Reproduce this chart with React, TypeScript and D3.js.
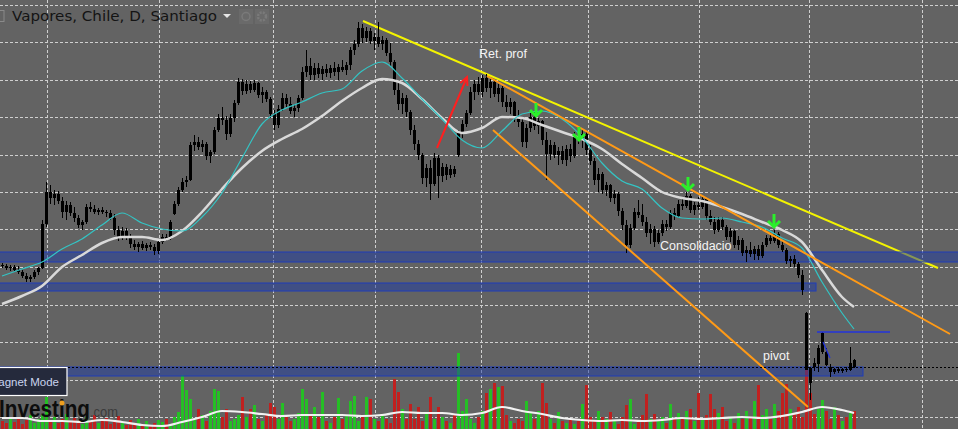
import * as d3 from "d3";

// daily bars: [open, high, low, close]
const candles: [number, number, number, number][] = [
  [23.5,23.7,23.2,23.4],[23.4,23.6,23.0,23.2],[23.2,23.5,22.9,23.3],[23.3,23.5,22.9,23.0],[23.0,23.4,22.6,22.8],[22.8,23.0,22.2,22.4],[22.4,22.7,21.8,22.1],[22.1,22.5,21.8,22.3],[22.3,23.0,22.1,22.8],[22.8,23.3,22.5,23.2],
  [23.2,28.0,23.1,27.6],[27.6,31.8,27.3,30.8],[30.8,31.5,29.6,30.2],[30.2,31.0,29.5,30.6],[30.6,30.9,29.6,29.9],[29.9,30.3,28.2,28.8],[28.8,29.9,28.0,29.5],[29.5,29.8,28.4,28.7],[28.7,29.3,27.8,28.2],[28.2,28.5,27.2,27.5],
  [27.5,28.0,27.0,27.8],[27.8,29.6,27.6,29.3],[29.3,29.8,28.8,29.1],[29.1,29.5,28.6,28.8],[28.8,29.2,28.5,29.0],[29.0,29.3,28.6,28.8],[28.8,29.0,28.3,28.7],[28.7,29.0,28.0,28.2],[28.2,28.6,26.5,27.0],[27.0,27.4,25.9,26.2],
  [26.2,27.3,26.0,26.9],[26.9,27.2,26.0,26.4],[26.4,26.6,25.2,25.6],[25.6,26.0,25.0,25.3],[25.3,25.8,24.8,25.6],[25.6,25.9,25.0,25.2],[25.2,25.7,24.9,25.5],[25.5,25.8,25.0,25.3],[25.3,25.6,24.5,24.9],[24.9,26.0,24.6,25.8],
  [25.8,26.6,25.6,26.3],[26.3,26.6,25.9,26.1],[26.1,28.0,26.0,27.8],[28.6,29.9,28.5,29.6],[29.6,31.3,29.4,31.0],[31.0,32.2,30.8,31.8],[31.8,32.4,31.3,32.0],[32.0,35.8,31.9,35.5],[35.5,36.5,34.9,35.8],[35.8,36.3,35.0,35.3],
  [35.3,36.0,34.8,35.6],[35.6,35.8,34.0,34.4],[34.4,35.0,33.7,34.8],[34.8,37.3,34.6,37.0],[37.0,38.6,36.8,38.2],[38.2,39.3,37.5,38.0],[38.0,38.4,36.0,36.6],[36.6,38.6,36.3,38.2],[38.2,40.0,37.8,39.7],[39.7,42.2,39.5,41.8],
  [41.8,42.1,40.5,40.9],[40.9,42.0,40.6,41.6],[41.6,41.9,40.7,41.0],[41.0,42.0,40.8,41.7],[41.7,41.8,40.2,40.5],[40.5,41.3,39.7,40.8],[40.8,41.0,39.8,40.1],[40.1,40.3,38.2,38.6],[38.6,39.0,37.0,37.5],[37.5,39.5,37.2,39.1],
  [39.1,40.7,38.9,40.2],[40.2,40.6,39.3,39.6],[39.6,40.3,38.6,38.9],[38.9,39.6,38.3,39.2],[39.2,40.5,38.8,40.2],[40.2,43.3,40.0,42.8],[42.8,45.0,42.3,43.4],[43.4,44.2,42.0,42.5],[42.5,43.7,42.0,43.2],[43.2,43.7,42.2,42.6],
  [42.6,43.4,42.0,43.1],[43.1,43.6,42.3,42.7],[42.7,43.5,42.2,43.2],[43.2,43.8,42.4,42.8],[42.8,43.6,42.0,43.3],[43.3,44.0,42.8,43.0],[43.0,43.8,42.5,43.5],[43.5,45.3,43.0,45.0],[45.0,46.0,44.5,45.6],[45.6,47.8,45.3,47.2],
  [47.2,47.6,45.7,46.2],[46.2,47.3,45.8,46.9],[46.9,47.2,45.6,45.9],[45.9,46.7,45.0,46.3],[46.3,47.8,45.3,45.6],[45.6,46.4,45.0,46.0],[46.0,46.2,44.4,44.7],[44.7,45.7,43.3,43.8],[43.8,44.0,40.5,41.0],[41.0,41.8,39.0,39.6],
  [39.6,40.7,38.6,40.2],[40.2,40.5,38.3,38.8],[38.8,39.0,36.5,37.0],[37.0,37.5,35.0,35.6],[35.6,36.0,34.0,34.5],[34.5,34.7,31.6,32.2],[32.2,33.6,31.3,33.2],[33.2,34.0,30.0,31.6],[31.6,34.7,31.4,34.2],[34.2,34.5,30.2,32.4],
  [32.4,33.7,31.8,33.3],[33.3,33.6,32.0,32.5],[32.5,33.5,32.2,33.1],[33.1,33.4,32.3,32.6],[34.5,37.0,34.3,36.7],[36.7,38.0,36.2,37.6],[37.6,39.0,37.3,38.7],[38.7,41.3,38.5,40.8],[40.8,42.0,40.0,41.6],[41.6,42.3,40.5,40.8],
  [40.8,42.5,40.3,42.2],[42.2,42.6,40.8,41.2],[41.2,42.2,40.2,41.8],[41.8,42.0,40.3,40.6],[40.6,41.6,39.8,41.2],[41.2,41.4,39.3,39.8],[39.8,40.5,38.8,39.3],[39.3,40.2,38.6,39.8],[39.8,39.9,37.8,38.2],[38.2,39.0,37.3,37.8],
  [37.8,38.2,35.3,35.8],[35.8,37.6,35.2,37.2],[37.2,38.7,36.8,38.3],[38.3,38.8,37.0,37.4],[37.4,38.2,36.6,37.9],[37.9,38.0,35.5,36.0],[36.0,36.8,32.0,34.6],[34.6,36.0,34.0,35.5],[35.5,35.8,34.2,34.5],[34.5,35.3,33.5,34.9],
  [34.9,35.4,33.6,34.0],[34.0,35.5,33.4,35.1],[35.1,35.6,33.8,34.4],[34.4,36.8,34.2,36.4],[36.4,37.3,35.6,36.0],[36.0,37.0,35.2,36.6],[36.6,36.8,34.5,35.0],[35.0,35.5,33.5,33.9],[33.9,34.2,31.5,32.0],[32.0,33.2,30.8,32.6],
  [32.6,32.8,30.6,31.0],[31.0,31.8,30.4,31.5],[31.5,31.6,29.8,30.2],[30.2,31.0,29.6,30.6],[30.6,30.8,28.4,28.9],[28.9,29.2,27.0,27.5],[27.5,28.0,24.7,25.5],[25.5,27.6,25.2,27.2],[27.2,29.2,27.0,28.8],[28.8,30.0,28.2,28.5],
  [28.5,29.6,27.4,27.8],[27.8,28.3,26.3,26.7],[26.7,27.6,25.6,27.1],[27.1,27.4,25.3,25.8],[25.8,27.0,25.6,26.7],[26.7,28.0,26.4,27.6],[27.6,28.0,26.9,27.3],[27.3,29.0,27.1,28.7],[28.7,29.2,28.0,28.4],[28.4,30.0,28.2,29.6],
  [29.6,30.2,29.0,29.4],[29.4,30.8,29.2,30.4],[30.4,30.6,28.7,29.0],[29.0,29.8,28.5,29.5],[29.5,30.3,29.0,29.3],[29.3,30.5,29.1,30.1],[30.1,30.2,28.0,28.4],[28.4,29.0,27.5,27.8],[27.8,28.3,26.6,27.0],[27.0,28.3,26.8,28.0],
  [28.0,28.3,27.0,27.3],[27.3,27.5,26.0,26.3],[26.3,27.2,25.8,26.9],[26.9,27.0,25.2,25.5],[25.5,26.4,25.0,26.0],[26.0,26.2,24.4,24.7],[24.7,25.4,23.8,25.0],[25.0,25.8,24.3,24.6],[24.6,25.4,24.0,25.1],[25.1,25.5,24.0,24.4],
  [24.4,25.8,24.2,25.5],[25.5,26.5,25.3,26.2],[26.2,26.6,25.6,25.9],[25.9,27.0,25.7,26.6],[26.6,26.8,25.2,25.5],[25.5,26.0,24.8,25.0],[25.0,25.2,23.6,23.9],[23.9,24.4,23.3,24.1],[24.1,24.5,23.3,23.6],[23.6,23.8,22.2,22.5],
  [22.5,23.0,20.5,21.0],[18.7,18.8,13.0,13.0],[13.2,13.3,10.0,11.7],[13.7,14.2,12.9,13.3],[13.6,15.5,12.8,15.2],[14.8,16.8,14.6,16.7],[14.8,15.2,13.4,13.5],[13.3,13.6,12.3,12.8],[12.8,13.2,12.6,13.1],[13.1,13.3,12.7,12.9],
  [12.9,13.2,12.7,13.1],[13.1,13.3,12.8,13.0],[13.0,15.3,12.9,13.7],[14.0,14.1,13.2,13.3],
];

const volumes = [
  8,6,10,7,12,5,9,14,6,10,
  14,32,9,12,6,10,15,8,11,7,
  5,12,8,14,6,9,11,5,8,13,
  7,4,9,6,10,5,8,3,6,9,
  7,10,5,12,17,54,39,30,10,20,
  14,8,18,40,38,12,20,8,10,14,
  32,12,20,24,10,8,14,26,22,10,
  26,12,8,10,16,40,30,15,22,12,
  37,8,6,12,31,10,14,28,33,8,
  12,32,30,10,8,14,10,6,50,37,
  20,10,25,10,22,8,15,32,10,22,
  12,8,6,15,76,18,30,10,6,12,
  18,36,40,46,42,43,14,8,6,10,
  8,28,16,10,18,46,26,10,6,17,
  8,6,10,5,8,25,44,12,8,18,
  12,10,17,8,5,12,24,30,5,8,
  14,35,10,15,8,12,6,25,10,16,
  12,18,20,8,36,10,14,35,20,16,
  22,8,12,6,16,10,18,12,28,44,
  14,20,10,25,18,36,45,20,15,22,
  12,70,36,15,20,29,18,10,22,14,8,12,16,18,
];

// indicator readings, one every 5 bars (last one on the final bar)
const maFast = [22.4,23.1,23.8,25.1,26.1,27.5,28.7,27.7,27.1,26.9,28.3,30.7,34.2,37.6,39.0,39.8,40.7,41.1,42.9,43.8,42.2,40.1,38.1,36.0,35.2,36.9,38.6,38.9,38.1,36.3,33.7,31.9,31.1,29.2,28.2,28.1,28.2,27.8,27.3,26.2,25.2,21.8,18.7,17.1];
const maSlow = [19.6,20.4,21.4,23.3,24.5,25.7,26.3,26.3,26.0,26.9,28.8,31.1,33.2,34.9,36.1,37.1,38.4,39.9,41.2,42.1,41.7,40.1,38.2,36.7,37.2,38.3,38.2,37.5,36.8,36.1,35.1,33.6,32.2,30.8,30.2,29.9,29.3,28.6,27.8,27.0,25.8,23.0,20.3,19.3];
const volMa = [11,11,8,8,7,9,7,4,3,7,12,18,17,15,13,14,14,14,13,14,17,16,16,14,16,22,18,15,11,9,8,9,8,9,11,10,11,12,11,13,17,22,19,16];

const dateTicks = [11.25, 39.25, 67.75, 93.25, 119.75, 146.5, 174.25, 201.75, 230];
const priceTicks = [8.3, 12.05, 15.8, 19.55, 23.3, 27.05, 30.8, 34.55, 38.3, 42.05, 45.8, 49.55];

// drawings
const zones = [
  { lo: 23.8, hi: 24.8, end: 240 },
  { lo: 20.9, hi: 21.7, end: 203.5 },
  { lo: 12.4, hi: 13.3, end: 215.25 },
];
const yellowLine = [[90.25, 47.9], [234, 23.2]];
const orangeLines = [
  [[121.25, 42.4], [237, 16.6]],
  [[122.75, 37.0], [201.5, 9.3]],
];
const redArrow = [[108.75, 35.2], [116.25, 42.3]];
const sellSignals = [[133.5, 38.3], [144.25, 35.9], [171.5, 30.9], [193, 27.2]];
const pivotLine = [[203.75, 16.8], [222, 16.8]];
const pivotSlope = [[205.25, 15.8], [207, 14.2]];
const notes = [
  { text: "Ret. prof", i: 119.25, p: 44.2 },
  { text: "Consolidacio", i: 164.5, p: 25.0 },
  { text: "pivot", i: 190.25, p: 14.0 },
];

export default function App() {
  const W = 958;
  const H = 429;
  const x = d3.scaleLinear().domain([0, 239]).range([2, 958]);
  const y = d3.scaleLinear().domain([7.1, 50]).range([H, 0]);
  const yv = d3.scaleLinear().domain([0, 100]).range([H, H - 100]);

  const last = candles.length - 1;
  const maIdx = maFast.map((_, k) => Math.min(k * 5, last));
  const maLine = d3
    .line<number>()
    .x((_, k) => x(maIdx[k]))
    .y((d) => y(d))
    .curve(d3.curveMonotoneX);
  const vmaLine = d3
    .line<number>()
    .x((_, k) => x(maIdx[k]))
    .y((d) => yv(d))
    .curve(d3.curveMonotoneX);
  const seg = (pts: number[][]) => ({ x1: x(pts[0][0]), y1: y(pts[0][1]), x2: x(pts[1][0]), y2: y(pts[1][1]) });

  const lastClose = candles[last][3];
  const ra = seg(redArrow);
  const ang = Math.atan2(ra.y2 - ra.y1, ra.x2 - ra.x1);

  const sans = "'Liberation Sans', Arial, sans-serif";

  return (
    <div style={{ position: "fixed", left: 0, top: 0 }}>
      <svg width={W} height={H} style={{ display: "block" }}>
        <rect width={W} height={H} fill="#636363" />

        <g stroke="#cfcfcf" strokeWidth={1} strokeDasharray="3,2">
          {dateTicks.map((t) => (
            <line key={"v" + t} x1={Math.round(x(t)) + 0.5} x2={Math.round(x(t)) + 0.5} y1={0} y2={H} />
          ))}
          {priceTicks.map((p) => (
            <line key={"h" + p} x1={0} x2={W} y1={Math.round(y(p)) + 0.5} y2={Math.round(y(p)) + 0.5} />
          ))}
        </g>

        <g>
          {volumes.map((v, i) => {
            const c = candles[i];
            return (
              <rect
                key={i}
                x={x(i) - 1}
                width={3}
                y={yv(v)}
                height={H - yv(v)}
                fill={c[3] >= c[0] ? "#25bf25" : "#c0201f"}
              />
            );
          })}
        </g>
        <path d={vmaLine(volMa) ?? ""} fill="none" stroke="#f2f2f2" strokeWidth={2.2} />

        <line {...seg(yellowLine)} stroke="#f3f300" strokeWidth={2} />

        {zones.map((z, k) => (
          <rect
            key={k}
            x={-1}
            width={x(z.end) + 1}
            y={y(z.hi)}
            height={y(z.lo) - y(z.hi)}
            fill="rgba(30,60,165,0.5)"
            stroke="#1f3db8"
            strokeWidth={1}
          />
        ))}

        <g>
          {candles.map(([o, h, l, c], i) => {
            const top = y(Math.max(o, c));
            const bh = Math.max(1, y(Math.min(o, c)) - top);
            return (
              <g key={i}>
                <line x1={x(i) + 0.5} x2={x(i) + 0.5} y1={y(h)} y2={y(l)} stroke="#000" strokeWidth={1} />
                <rect x={x(i) - 1} width={3} y={top} height={bh} fill="#000" />
              </g>
            );
          })}
        </g>

        <path d={maLine(maSlow) ?? ""} fill="none" stroke="#d9d9d9" strokeWidth={2.5} />
        <path d={maLine(maFast) ?? ""} fill="none" stroke="#33c4c4" strokeWidth={1.2} />

        {orangeLines.map((l, k) => (
          <line key={k} {...seg(l)} stroke="#ff9a16" strokeWidth={2} />
        ))}

        <g stroke="#ff1f1f" strokeWidth={2} fill="none">
          <line {...ra} />
          <polyline
            points={[
              [ra.x2 - 9 * Math.cos(ang - 0.45), ra.y2 - 9 * Math.sin(ang - 0.45)],
              [ra.x2, ra.y2],
              [ra.x2 - 9 * Math.cos(ang + 0.45), ra.y2 - 9 * Math.sin(ang + 0.45)],
            ]
              .map((p) => p.join(","))
              .join(" ")}
          />
        </g>

        <g stroke="#2bef2b" strokeWidth={3} fill="none" strokeLinecap="butt">
          {sellSignals.map(([i, p], k) => {
            const tx = x(i);
            const ty = y(p);
            return (
              <g key={k}>
                <line x1={tx} x2={tx} y1={ty - 14} y2={ty - 1} />
                <polyline points={`${tx - 6},${ty - 7} ${tx},${ty - 1} ${tx + 6},${ty - 7}`} />
              </g>
            );
          })}
        </g>

        <line {...seg(pivotLine)} stroke="#2233dd" strokeWidth={1.5} />
        <line {...seg(pivotSlope)} stroke="#2233dd" strokeWidth={1.2} />

        <line
          x1={0}
          x2={W}
          y1={Math.round(y(lastClose)) + 0.5}
          y2={Math.round(y(lastClose)) + 0.5}
          stroke="#000"
          strokeWidth={1}
          strokeDasharray="2,2"
        />

        {notes.map((n) => (
          <text key={n.text} x={x(n.i)} y={y(n.p)} fill="#f4f4f4" fontFamily={sans} fontSize={12.5}>
            {n.text}
          </text>
        ))}

        {/* header */}
        <rect x={-4} y={10.5} width={8} height={11} fill="none" stroke="#8a8a8a" />
        <text x={12} y={21} fontFamily="'DejaVu Sans', Verdana, sans-serif" fontSize={14} fill="#141414" textLength={205} lengthAdjust="spacingAndGlyphs">
          Vapores, Chile, D, Santiago
        </text>
        <path d="M223,14 L231,14 L227,18 Z" fill="#e6e6e6" />
        <rect x={239} y={9} width={14} height={15} fill="#6a6a6a" />
        <circle cx={246} cy={16.5} r={4} fill="none" stroke="#7a7a7a" strokeWidth={1.5} />
        <rect x={255} y={9} width={14} height={15} fill="#6a6a6a" />
        <circle cx={262} cy={16.5} r={4} fill="none" stroke="#7a7a7a" strokeWidth={2.5} strokeDasharray="2,1.2" />

        {/* tooltip box */}
        <rect x={-1} y={367.5} width={68} height={28} fill="#252a3c" stroke="#ffffff" strokeWidth={1.2} />
        <text x={59} y={386} textAnchor="end" fontFamily={sans} fontSize={11.5} fill="#c9d3ef">
          Magnet Mode
        </text>

        {/* watermark */}
        <text x={-1} y={417} fontFamily={sans} fontWeight="bold" fontSize={23} fill="#0d0d0d" textLength={91} lengthAdjust="spacingAndGlyphs">
          Investing
        </text>
        <circle cx={62} cy={403} r={2.5} fill="#f0a020" />
        <text x={90} y={417} fontFamily={sans} fontSize={14} fill="#3b3b3b" textLength={28} lengthAdjust="spacingAndGlyphs">
          .com
        </text>
      </svg>
    </div>
  );
}
